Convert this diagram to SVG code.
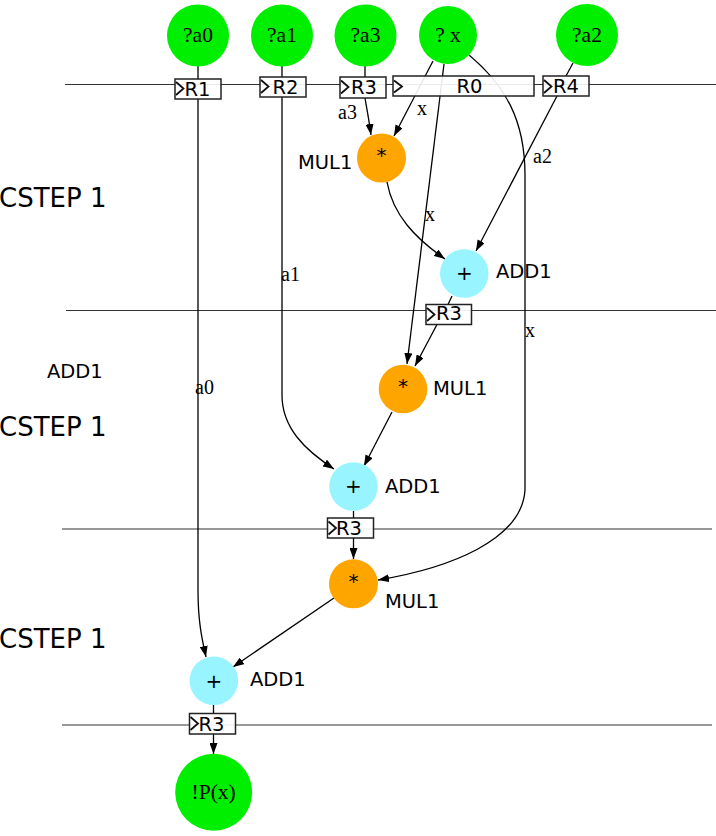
<svg xmlns="http://www.w3.org/2000/svg" width="716" height="836" viewBox="0 0 716 836">
<style>
.bg{fill:#ffffff}
.rl{stroke:#333333;stroke-width:1.2;fill:none}
.e{stroke:#000000;stroke-width:1.3;fill:none}
.ea{stroke:#000000;stroke-width:1.3;fill:none;marker-end:url(#ah)}
.box{fill:#ffffff;fill-opacity:0.9;stroke:#222222;stroke-width:1.5}
.clk{fill:none;stroke:#111111;stroke-width:1.8}
.rt{font-family:"DejaVu Sans",sans-serif;font-size:19.5px;fill:#000}
.lt{font-family:"DejaVu Sans",sans-serif;font-size:19.5px;fill:#000}
.cs{font-family:"DejaVu Sans",sans-serif;font-size:26px;fill:#000}
.nt{font-family:"Liberation Serif",serif;font-size:21.5px;fill:#000;text-anchor:middle}
.op{font-family:"DejaVu Sans",sans-serif;font-size:20px;fill:#000;text-anchor:middle}
.el{font-family:"Liberation Serif",serif;font-size:20px;fill:#000}
.src{fill:#00ee00}
.mul{fill:#ffa500}
.add{fill:#98f5ff}
</style>
<defs>
<marker id="ah" markerWidth="11" markerHeight="8" refX="11" refY="4" orient="auto" markerUnits="userSpaceOnUse">
<path d="M0,0 L11,4 L0,8 z" fill="#000"/>
</marker>
</defs>
<rect class="bg" x="0" y="0" width="716" height="836"/>

<g id="cstep-labels">
<text class="cs" x="-1" y="207">CSTEP 1</text>
<text class="cs" x="-1" y="436">CSTEP 1</text>
<text class="cs" x="-1" y="648">CSTEP 1</text>
<text class="lt" x="47" y="378">ADD1</text>
</g>

<g id="register-lines">
<line class="rl" x1="65" y1="84.5" x2="716" y2="84.5"/>
<line class="rl" x1="66" y1="310.5" x2="716" y2="310.5"/>
<line class="rl" x1="62" y1="529" x2="712" y2="529"/>
<line class="rl" x1="62" y1="725" x2="712" y2="725"/>
</g>

<g id="connectors">
<path class="e" d="M198,66 L198,79"/>
<path class="e" d="M282,66 L282,77"/>
<path class="e" d="M365,66 L365,77"/>
<path class="e" d="M573,63 L566,76"/>
<path class="ea" d="M198,99 L198,590 C198,625 203,643 206,657"/>
<path class="ea" d="M282,97 L282,395 C282,428 305,450 334,469"/>
<path class="ea" d="M365,98 C367,110 369,120 371,135"/>
<path class="ea" d="M433,61 L394,136"/>
<path class="ea" d="M444,64 L407,364"/>
<path class="ea" d="M469,55 C505,85 525,120 525,175 L525,490 C522,540 450,568 378,580"/>
<path class="ea" d="M557,96 L476,251"/>
<path class="ea" d="M387,182 C393,215 415,238 445,259"/>
<path class="e" d="M452,296 L448,304.5"/>
<path class="ea" d="M437,324.5 L415,366"/>
<path class="ea" d="M392,412 L364,466"/>
<path class="e" d="M353.5,511 L353.5,518"/>
<path class="ea" d="M353.5,538 L353.5,559"/>
<path class="ea" d="M334,598 L233,667"/>
<path class="e" d="M213.5,705 L213.5,713"/>
<path class="ea" d="M213.5,734 L213.5,754"/>
<text class="el" x="338" y="119">a3</text>
<text class="el" x="417" y="115">x</text>
<text class="el" x="533" y="163">a2</text>
<text class="el" x="425" y="221">x</text>
<text class="el" x="281" y="281">a1</text>
<text class="el" x="525" y="337">x</text>
<text class="el" x="195" y="394">a0</text>
</g>

<g id="reg-R1">
<rect class="box" x="175" y="79" width="46" height="20"/>
<path class="clk" d="M176,82 L183.5,88.5 L176,95"/>
<text class="rt" x="184.5" y="95.5">R1</text>
</g>
<g id="reg-R2">
<rect class="box" x="260" y="77" width="46" height="20"/>
<path class="clk" d="M261,80 L268.5,86.5 L261,93"/>
<text class="rt" x="272.5" y="94">R2</text>
</g>
<g id="reg-R3a">
<rect class="box" x="340" y="77" width="46" height="21"/>
<path class="clk" d="M341,80.5 L348.5,87 L341,93.5"/>
<text class="rt" x="351" y="94">R3</text>
</g>
<g id="reg-R0">
<rect class="box" x="393" y="76" width="141" height="20"/>
<path class="clk" d="M394,80.5 L402,86.5 L394,92.5"/>
<text class="rt" x="456.5" y="93">R0</text>
</g>
<g id="reg-R4">
<rect class="box" x="543" y="76" width="46" height="20"/>
<path class="clk" d="M544,80 L551.5,86.5 L544,93"/>
<text class="rt" x="553" y="93">R4</text>
</g>
<g id="reg-R3b">
<rect class="box" x="426" y="304.5" width="45.5" height="20"/>
<path class="clk" d="M427,308 L434.5,314.5 L427,321"/>
<text class="rt" x="436" y="319.5">R3</text>
</g>
<g id="reg-R3c">
<rect class="box" x="327.5" y="518" width="46" height="20"/>
<path class="clk" d="M328.5,521.5 L336,528 L328.5,534.5"/>
<text class="rt" x="336" y="535">R3</text>
</g>
<g id="reg-R3d">
<rect class="box" x="189.5" y="713.5" width="46" height="20.5"/>
<path class="clk" d="M190.5,717 L198,723.5 L190.5,730"/>
<text class="rt" x="198.5" y="731">R3</text>
</g>

<g id="in-a0"><circle class="src" cx="198" cy="35.5" r="31"/><text class="nt" x="198" y="42">?a0</text></g>
<g id="in-a1"><circle class="src" cx="282" cy="35.5" r="31"/><text class="nt" x="282" y="42">?a1</text></g>
<g id="in-a3"><circle class="src" cx="365.5" cy="35.5" r="31"/><text class="nt" x="365.5" y="42">?a3</text></g>
<g id="in-x"><circle class="src" cx="448" cy="35" r="29"/><text class="nt" x="448" y="42">? x</text></g>
<g id="in-a2"><circle class="src" cx="587" cy="35" r="31"/><text class="nt" x="587" y="42">?a2</text></g>

<g id="mul1-a"><circle class="mul" cx="381.5" cy="158" r="24.5"/><text class="op" x="381.5" y="162">*</text><text class="lt" x="298" y="169">MUL1</text></g>
<g id="add1-a"><circle class="add" cx="464.3" cy="273.5" r="24.3"/><text class="op" x="464.3" y="280">+</text><text class="lt" x="496" y="278">ADD1</text></g>
<g id="mul1-b"><circle class="mul" cx="403" cy="389" r="24.3"/><text class="op" x="403" y="393">*</text><text class="lt" x="433" y="395">MUL1</text></g>
<g id="add1-b"><circle class="add" cx="353.5" cy="486.5" r="24.3"/><text class="op" x="353.5" y="493">+</text><text class="lt" x="385" y="493">ADD1</text></g>
<g id="mul1-c"><circle class="mul" cx="353.5" cy="583.8" r="24.5"/><text class="op" x="353.5" y="588">*</text><text class="lt" x="385" y="608">MUL1</text></g>
<g id="add1-c"><circle class="add" cx="213.8" cy="680.8" r="24.3"/><text class="op" x="213.8" y="687.5">+</text><text class="lt" x="250" y="686">ADD1</text></g>
<g id="out-p"><circle class="src" cx="213.7" cy="792.3" r="38.5"/><text class="nt" x="213.7" y="799">!P(x)</text></g>
</svg>
